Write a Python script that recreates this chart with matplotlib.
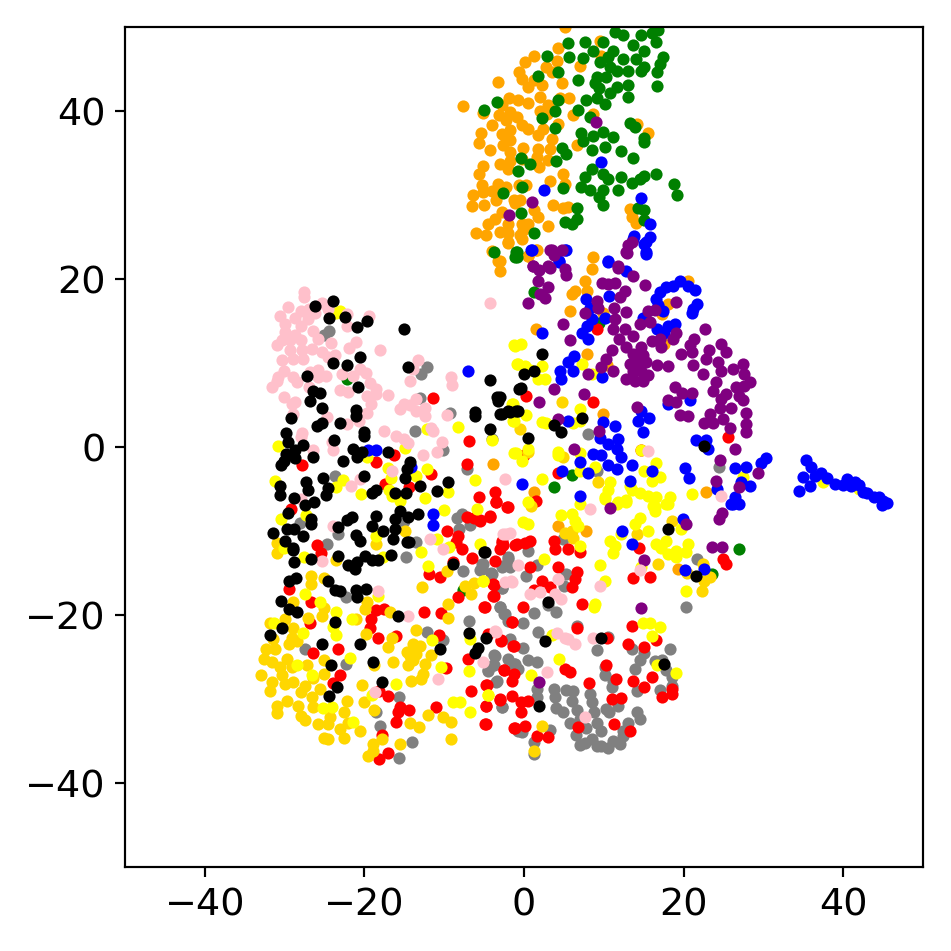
import numpy as np
import matplotlib
matplotlib.use("Agg")
import matplotlib.pyplot as plt

### points, (x, y) per colour
orange_pts = [(-7.6,40.6),(-3.3,43.5),(-5.1,39.8),(1.2,46.5),(0.1,45.8),(-0.6,44.6),(-0.3,43.8),(4.3,47.5),(4.1,46.0),(2.8,45.2),
    (3.5,44.6),(1.2,43.7),(0.5,42.9),(2.2,43.1),(4.7,43.3),(7.0,45.4),(9.7,46.5),(-1.9,41.6),(-0.8,41.3),(0.5,40.9),
    (2,41.7),(4.5,41.5),(5.7,41.5),(3,40.7),(2,40),(2.9,39.7),(6.2,39.5),(-2.8,40.7),(-3.1,39.5),(-1.8,39.9),
    (-2.2,38.9),(-0.9,39.3),(-0.3,38.3),(-4,38.3),(-5.4,37.4),(-5.6,36.2),(-2.8,37.3),(-1.8,37.7),(0.5,37.9),(1.8,37.1),
    (2.4,37.9),(4.3,38.4),(3.5,36.7),(-2.6,35.9),(-1.8,36.5),(-4.2,35.4),(-0.1,35.6),(1.7,35.5),(3.3,35.5),(6.7,36),
    (-1.8,35.1),(-1.8,34.1),(-0.3,34.3),(1.6,34.5),(3,34.2),(-3,33.7),(-2,33.1),(1.9,33.3),(-5.2,33.4),(-5.6,32.5),
    (-5.3,31.2),(4.9,32.5),(3.3,31.7),(5.1,31.3),(-3.2,31.3),(-2.2,31),(0.3,31.2),(-0.6,31.2),(-6.4,30),(-4,30.5),
    (-5.1,30.4),(-3.5,29.4),(-6.5,28.7),(-5,28.8),(-1.3,29.4),(-0.5,29.4),(-1.1,29),(3.6,28.8),(4.9,28.4),(5.5,28.6),
    (1.2,28.2),(13.3,28.3),(13.5,27.4),(14,26.7),(-2.8,28),(-3.6,27.1),(-4.5,26.5),(-6,25.5),(-4.8,25.2),(-3,25.6),
    (-2,26.6),(-2,24.4),(-0.3,26.6),(0.5,26.6),(1.8,27.4),(3,26.3),(-0.5,25.2),(-0.1,25.8),(-2,25.5),(-4,23.3),
    (0.5,22.7),(-3.2,22.1),(8.7,22.6),(15.5,37.4),(14.1,38.4),(8.7,39.7),(9.5,48.3),(5.1,50),(1.5,23.4),
    (8.5,21.2),(7.7,19.8),(7.9,18.6),(6.4,18.6),(6,18.2),(5.8,16.2),(9.9,16),(1.5,14),(7.9,11.1),(10.4,9.8),
    (17.5,12.3),(18,17),(17.3,15.8),(20.5,19.8),(0.5,22.7),(-2,24.3),(-3,22.2),(-3,21),(1.6,23.4),(9.9,3.9),
    (22.8,-5.4),(1.2,-5.3),(-0.3,24.8),(-3.9,-2),(4.2,-9.4),(7.8,-10),(19.3,-14.5)]

green_pts = [(2.9,46.6),(5.5,48.1),(7.6,48.2),(5.7,46.4),(7.4,46.3),(8.7,47.2),(9.9,48.2),(11.4,49.4),(12.4,49),(14.7,49.1),
    (16.8,49.6),(16,49.3),(13.7,47.8),(16.6,48.2),(15.1,47.2),(17.4,46.4),(17,45.6),(14,46.2),(11.2,47.2),(10.5,46.4),
    (12.4,46.2),(9.5,45.8),(10.8,45.2),(13,44.8),(15.1,45.2),(14.7,44.8),(16.7,44.6),(11.6,44.8),(10.3,44),(9.1,44),
    (6.8,43.7),(4.3,44.6),(1.7,44.2),(8.9,43.3),(9.4,42.7),(16.7,43),(13,43.1),(13,41.7),(11.6,42.9),(10.8,42.1),
    (10.1,40.8),(9.2,41.5),(7.8,41.3),(6.8,40.1),(4.3,41.3),(3.9,40),(2.3,39.2),(-3.4,41.1),(-5,40.1),(8.3,39.3),
    (3.9,38),(13.3,38.6),(13.9,38.1),(15,36.8),(15,36.3),(7.1,37.4),(7.4,36.4),(8.7,37),(9.9,37.5),(11.1,36.9),
    (10.1,35.7),(8.5,35.3),(4.7,35.6),(5.3,34.9),(4,34),(12.1,35.2),(13.7,34.4),(0.7,33.7),(-0.8,32.9),(-0.4,34.4),
    (8.5,33.1),(7.6,32.1),(7.2,30.9),(8.3,30.6),(9.9,32.5),(10.5,31.9),(12.1,32.1),(11.8,30.6),(9.9,30.6),(9.4,29.8),
    (9.9,28.8),(13.5,31.4),(14.5,31.9),(15,32.3),(16.6,32.5),(18.8,31.3),(19.2,30),(4.9,30.8),(-0.3,30.9),(-2.6,30.2),
    (6.7,28.4),(6.6,27.2),(5.1,26.8),(6,26.6),(-0.4,27.9),(1.2,25.5),(14.3,28.4),(15.1,27),(15.1,28.2),(-0.9,23.2),
    (-0.9,22.6),(-3.8,23.2),(-1,23.2),(-1.1,22.6),(1.2,18.5),(9.4,14.8),(6,-3.3),(3.8,-4.8),(26.9,-12.2),(23.6,-15.1),
    (-7.6,-17),(-22.2,8.1)]

gray_pts = [(-24.4,13.8),(-25.1,13.3),(-12.1,9.5),(-12.9,8.7),(-13,5.8),(-9.3,4),(-13.6,1.9),(-10.1,-.4),(-7.1,-2.6),(-23.7,-3.4),
    (-8.4,-8.5),(-7.8,-8),(-6.8,-9.3),(-15.1,-8.8),(-28.1,-9),(-23.3,-10.4),(-24.7,-11.5),(-8.1,-9.8),(-13.5,-11.3),(-4,.9),
    (-14.8,-13.1),(-7.6,-14.8),(-5.3,-13.9),(-5.3,-14.5),(-4.1,-15),(-2.6,-14.2),(-2,-13.3),(-2.8,-16.8),(-22.3,-17.9),(-3,-19),
    (-2.4,-19.9),(-6.9,-20.7),(-12.1,-22),(-10.1,-23),(-27.4,-24),(-22.3,-25.8),(-3.7,-24.8),(-2,-25.2),(-3.9,-26),(-4.5,-26.7),
    (-1.2,-25.8),(-3.5,-28),(-2.7,-31),(-15.7,-29.8),(-18.5,-31.5),(-18,-33.2),(-14,-35.1),(-15.7,-37),(-.8,-33.8),
    (.5,-12.4),(-2,-13.1),(-2.8,-14.3),(-1.8,-14.3),(-5.1,-13.9),(-4,-15.1),(-5.5,-14.7),(1.6,-14.1),(.3,-15.4),(4.9,-11),
    (-2.7,-16.8),(5.3,-15.1),(5,-16.5),(3,-18.8),(4,-19.6),(1.3,-19.8),(-3,-19),(-2.5,-19.9),(-2,-20.7),(-.1,-20.9),
    (1.8,-22),(-1.8,-22.8),(-.1,-23.9),(9.2,-24.2),(10.5,-22.6),(6.6,-21.3),(13.5,-24.1),(18.3,-24.1),(15,-24.5),(14.5,-25.4),
    (13.9,-26.4),(10.1,-26.2),(10.1,-27.2),(-3.6,-24.9),(-1.1,-25.8),(-3.8,-26),(-4.5,-26.6),(-.7,-26.4),(.5,-25.4),(1.6,-25.6),
    (-3.4,-27.9),(17.3,-25.4),(16.4,-25.5),(17.8,-26.6),(18.5,-27.4),(18.5,-28.4),(17,-28.9),(14.1,-29),(11.2,-27.8),(11,-28.6),
    (1.6,-28.8),(1.6,-29.8),(3.8,-28.8),(3.9,-29.8),(4,-31.1),(4.9,-31.5),(5.3,-28.9),(6.2,-29.1),(6,-30.2),(6.6,-31.3),
    (8.3,-29.4),(8.5,-30.4),(8.8,-31.5),(10.3,-31.2),(11.8,-30.8),(10.7,-31.6),(14.1,-31.5),(14.5,-32.4),(13,-32.9),(5.8,-32.8),
    (7,-32.4),(7.8,-33.4),(9.2,-32.8),(9.7,-33.8),(12.4,-33.8),(6.5,-34.3),(8.5,-34.8),(7,-35.5),(7.6,-35.2),(9.1,-35.6),
    (9.7,-35.6),(10.5,-35.8),(11.2,-35),(12,-35.4),(12.4,-34.4),(-.3,-33.9),(3.3,-33.7),(1.2,-35.1),(1.3,-36.6),(-2.8,-31),
    (21.7,-13.3),(20.3,-19),(8,1.5),(24.4,-2.4),(9.1,-2.8)]

red_pts = [(-11.4,5.8),(-6.9,.7),(-7.2,-2),(-27.8,-2.1),(-18.5,-1.8),(-16.3,-.9),(-11.7,-3.2),(-14.4,-4.8),(-17.4,-4.4),(-3.6,-5.3),
    (-3.5,-6.5),(-5.7,-6),(-2.1,-7.2),(-4.3,-8.3),(-5.5,-8.7),(-6.3,-8.5),(-7.1,-8.3),(-8.3,-10.6),(-8.5,-11.3),(-2.8,-11.2),
    (-2.6,-11.7),(-29.2,-7.4),(-26,-11.7),(-9.7,-10),(-1.1,-11.7),(-25.4,-12.6),(-7.8,-12.1),(-11.9,-15.1),(-10.5,-15.5),(-8.9,-13.7),
    (-6.5,-13.2),(-3.9,-16.3),(-3.9,-17.7),(-8.3,-17.9),(-5,-19),(-29.5,-16.9),(-26.7,-18.4),(-26.8,-21),(-12.5,-19.6),(-10.4,-19.8),
    (-19.2,-20.5),(-18.5,-19.4),(-17.6,-19.3),(-19.3,-21.5),(-18.3,-22.7),(-16,-22.5),(-10.7,-22.4),(-1.5,-20.8),(-4.5,-22.3),(-2.9,-23.1),
    (-1.4,-23.7),(-23.3,-24.1),(-26.4,-24.5),(-7,-25.2),(-9.8,-26.3),(-2.5,-26.6),(-4.6,-28.3),(-6.7,-29.1),(-3,-30.1),(-4.8,-30.8),
    (-4.8,-33),(-23.1,-27.2),(-23.9,-28.1),(-18.2,-29.1),(-17,-29.7),(-15.6,-31),(-14.4,-31.3),(-15.8,-31.5),(-11,-31),(-16.1,-32.7),
    (-17.8,-34.3),(-18.2,-37.1),(-17,-36.4),(-1.2,-33.5),(-2,-7.2),(-4.2,-8.2),(-5.5,-8.8),(-3.5,-6.6),(-.9,-11.6),(-2.8,-11.4),
    (-3,-12.2),(.1,-11.4),(.8,-11.2),(3.7,-11.2),(3.9,-12.2),(5.5,-12.2),(7,-12.5),(-3.6,-13.6),(.7,-14.3),(4.3,-14.3),
    (6.6,-14.9),(6.4,-15.7),(2.3,-15.9),(-3.8,-16.4),(3.3,-16.7),(1.3,-17),(6,-16.7),(-3.8,-17.7),(-.1,-19),(-4.9,-19),
    (7.3,-18.7),(13.7,-15.6),(15.8,-15.5),(14.4,-12),(25,-13.3),(25.3,-13.9),(-1.5,-20.8),(13.5,-21.3),(6.6,-21.5),(10.4,-22.7),
    (13,-23.5),(16.5,-23),(-2.9,-23),(-1.3,-23.7),(15,-23.8),(-2.5,-26.6),(-1.2,-27),(-1.5,-27.8),(5.1,-26.4),(5.8,-26.8),
    (-4.7,-28.3),(10.3,-25.9),(11.5,-27.6),(8.2,-28.1),(13.7,-27.9),(16,-27.4),(15,-28.6),(18.5,-28.8),(18.6,-29.4),(17.3,-29.8),
    (-3,-30),(-1.5,-29.6),(-4.7,-30.8),(.5,-30.2),(-.4,-30.3),(-.4,-31.5),(11,-30),(12.1,-29.9),(11.3,-33),(-4.9,-33),
    (-1.1,-33.5),(.1,-33.2),(1.6,-34.4),(3,-34.5),(6.8,-33.3),(13.3,-33.8),(9.2,14),(25.6,1.2),(14.6,-.4),(8.6,5.3),
    (.3,6.1),(0,-.9),(4.3,-3.1),(1.5,-6.4)]

gold_pts = [(-31,-11.4),(-31,-12.6),(-26.7,-15.3),(-26.7,-16.3),(-25,-15.6),(-28.9,-18.5),(-25,-19.2),(-25.3,-20.1),(-27.1,-20.3),(-29.9,-20.5),
    (-31.8,-21),(-28.9,-21.5),(-29.1,-22.7),(-29.5,-23.5),(-28.5,-23.1),(-31.4,-22.9),(-31.2,-24),(-32.3,-24.1),(-32.6,-25.2),(-31.6,-25.6),
    (-29.7,-25.2),(-30.6,-26.2),(-29.1,-26.2),(-27.2,-26),(-33,-27.1),(-30.3,-27.2),(-31.6,-28),(-29.9,-28.2),(-31.8,-29),(-28.9,-28),
    (-28,-29.2),(-27.4,-28.4),(-29.7,-30.2),(-31,-30.8),(-31,-31.7),(-28.3,-30.8),(-28,-32),(-27.4,-32.5),(-26.6,-29.8),(-26.4,-31),
    (-25.1,-25.4),(-25,-27),(-26.4,-27.5),(-25.6,-28.8),(-24.3,-32.2),(-25.8,-33),(-24.5,-33),(-22.6,-31.6),(-22.2,-30.2),(-20.1,-30.4),
    (-20.3,-28.3),(-18.8,-31.3),(-22,-32.9),(-23.1,-33.6),(-20.5,-33.8),(-22.6,-34.6),(-25.1,-34.7),(-24.6,-34.8),(-18.9,-35.4),(-17.8,-34.8),
    (-19.5,-36.8),(-18.9,-36.2),(-15.6,-35.4),(-14.3,-32.9),(-13.2,-33.3),(-12,-31.9),(-10.1,-32.2),(-9.1,-32.7),(-9.1,-34.8),(-14.2,-27.8),
    (-12.9,-27.6),(-12.6,-27),(-12.4,-25.8),(-14.5,-26),(-13.9,-25.4),(-14.7,-24.4),(-13.9,-23.5),(-13,-23.7),(-14.3,-24.9),(-13.5,-24.6),
    (-11.7,-24.8),(-13.5,-21.8),(-16.4,-25.6),(-18.8,-25.9),(-17,-23.8),(-16.6,-22.7),(-19.8,-22.3),(-19.9,-19.3),(-21,-20.5),(-19.7,-18.5),
    (-16.8,-19.6),(-9.5,-18.7),(-9.5,-20.3),(-12.8,-16.7),(-9.7,-14.8),(-6.3,-16.2),(-6.6,-17.5),(-7.4,-16.5),(-14.9,-10),(-23.5,-13.5),
    (-18.5,-11.5),(6,-10),(6.2,-10.8),(5.1,-10.2),(14.1,-10.3),(18.5,-8.8),(16.8,-13.9),(22.4,-13.9),(20.4,-15),(23.3,-15.5),
    (22.6,-15.9),(22.3,-17.1),(.9,-7),(2.2,-33.2),(1.2,-36.2),(4.8,5.3),(9.3,-4.2),(-.5,2.1),(4.9,-1.2),(.5,-.6)]

yellow_pts = [(-1.1,12),(-.4,12.3),(-.7,9.9),(.1,9.7),(.8,9.2),(2.3,9.7),(1.8,8.1),(2.6,8.1),(7.3,9.9),(8.5,8.7),
    (-1.4,5.1),(.3,3.8),(-1.3,3.1),(2.2,3),(2.8,2.9),(6.2,2.9),(7,3.1),(7,4.5),(-1,-.7),(.5,-.2),
    (-.3,-1.7),(4.2,-.6),(4.2,-1),(7,-.7),(7,-2.9),(8.9,-2.4),(2.2,-3.8),(14.7,-.4),(16.5,-1.9),(15.1,-2.8),
    (17,-3.6),(16,-4.1),(10.8,-4.2),(10.5,-5.1),(10.1,-6),(13.3,-4.6),(13.5,-5.1),(14.5,-5.5),(15.5,-5.8),(16.6,-6),
    (18.3,-6),(17.8,-6.8),(12.8,-6.3),(11.8,-6.6),(21,-5.6),(27.5,-3.6),(.5,-6.6),(7,-6.8),(16.4,-7.2),
    (-23,16.2),(-23.6,16),(-1.3,12.1),(-.9,9.9),(-1.5,5.1),(-1.4,3.1),(-8.3,2.4),(-4,.8),(-1.2,-.7),(-12.1,2.1),
    (-30.8,.1),(-31.2,-4.1),(-19.7,-1.2),(-14.9,-.1),(-17.1,-2.5),(-16.7,-3.7),(-13.5,-3.4),(-12.2,-2.6),(-6.1,-3.9),(-22.7,-3.9),
    (-23.5,-4.8),(-20.4,-5.6),(-16.9,-5.1),(-16.6,-5.8),(-15.5,-6.4),(-9.5,-5.3),(-12.4,-6.1),(-10,-7.5),(-5.9,-7.4),(-30.4,-8.6),
    (-27.3,-8.1),(-18.5,-10.6),(-10.9,-11),(-9.4,-11.9),(-5.5,-11.6),(-30.1,-12),(-27.6,-13.1),(-17.7,-13.1),(-12.9,-12.5),(-12,-14.2),
    (-5.2,-15.9),(-27.4,-17.5),(-25.6,-18.4),(-18.3,-17.7),(-23.6,-19.6),(-21.6,-20.5),(-23.9,-21.4),(-23.6,-22.4),(-27.7,-22.1),(-31.3,-20.9),
    (-6.8,-22.9),(-11.5,-23),(-6.9,-26.7),(-16,-28.2),(-21.8,-25.1),(-28.5,-26),(-26.6,-27.2),(-4.5,-29.5),(-8.9,-30.3),(-8,-30.3),
    (-6.8,-31.5),(-25.2,-31.1),(-24,-31),(-19.1,-29.5),(-10.4,-26.2),(-21.4,-32.7),(4.6,-8.1),(6,-8),(6.4,-8.8),(6.8,-9.4),
    (-.1,-8.9),(.5,-9.2),(10.1,-6.2),(11.6,-6.8),(12.8,-6.6),(16.4,-7.6),(16.2,-7),(18,-6.8),(14.5,-8.4),(13.9,-9.2),
    (15.6,-10),(12.2,-10.3),(10.8,-11.2),(11.4,-11.8),(11.2,-12.6),(16.6,-11.6),(17.8,-11.2),(17.2,-12),(18,-12.7),(19.1,-12.4),
    (19,-13.1),(20.5,-11.6),(20.3,-12.5),(19.7,-9.8),(9.5,-14.1),(10.1,-15.9),(14.6,-14.3),(2.5,-13.3),(20.3,-17.2),(8.9,-18.7),
    (8.8,-19),(14.9,-21),(15.8,-21),(17.1,-21.4),(16,-22.5),(3.5,-22.4),(4.4,-25.2),(16.7,-26),(19,-26.9),(.9,-27.2),
    (-4.5,-29.5),(7,-11.8),(-5.1,-15.9),(37.5,-4.2),(42,-5)]

blue_pts = [(1,23.5),(5.3,23.4),(4.4,22),(10.5,22),(12.8,21),(15.3,24.4),(15.3,23.2),(13.7,24.8),(19.5,19.8),(18.7,19.2),
    (17.8,19),(17,18.5),(16.5,17.6),(16.8,16.9),(20.5,19.2),(21.4,18.7),(21.7,17),(21.2,16.4),(21,16),(17.4,16.2),
    (10.7,18),(7.8,17.6),(8.3,16.6),(8.5,15.2),(7.9,14.4),(7.3,13.6),(8,12.8),(10.1,15.4),(14.9,15.3),(16.7,14),
    (17.6,13.6),(18.9,14.6),(18,14.4),(2.3,13.6),(6.3,10.8),(5.5,10.1),(4.5,9.1),(4.6,8.1),(6.2,9),(9.8,8.3),
    (20.8,5.6),(18,5.1),(14.6,4.3),(14.3,3.1),(15.7,3.5),(14.9,1.8),(5.5,3.1),(9.9,3),(11.4,2.5),(9.5,1.1),
    (11.8,1),(10.5,.35),(11.6,-.2),(12.2,-1.2),(9.7,-1),(8.7,-.8),(7,-1.8),(8,-3.1),(10.5,-2.2),(11.6,-2.6),
    (13.5,-2.2),(4.7,-2.8),(-.2,-4.4),(7,-5.8),(16.1,-2.8),(13.3,-4.1),(21.6,.8),(22.8,.8),(23,-.2),(20.2,-2.5),
    (20.7,-3.7),(26.5,-2.5),(27.8,-2.4),(27.2,-4.2),(29.7,-1.9),(30.3,-1.3),(24.2,-5),(28.3,-4.6),(26.4,-6),(26,-6.8),
    (27,-6.8),(34.5,-5.2),(35,-3.6),(35.4,-1.6),(36,-2.4),(36.5,-3.5),(37.2,-3.1),(35.8,-4.6),(38,-3.7),(39,-4.4),
    (40,-4.5),(40.5,-3.8),(41,-4.7),(41.5,-4.2),(42,-4.5),(42.5,-5.4),(43,-5.5),(43.8,-5.9),(44.5,-6),(45,-6.4),
    (45.5,-6.7),(44.8,-6.9),(-7,9),(-18.5,-.4),(-19.6,-.4),(-14.1,-2.4),(-11.4,-8),(-11.4,-9.3),(9.6,33.9),(2.5,30.6),
    (14.6,29.6),(15.8,26.5),(13.8,25.1),(15.8,25),(15,24.2),(15.3,23),(.9,23.4),(5.1,23.4),(4.4,22.1),(10.5,22.1),
    (13.5,-11.5),(19.9,-8.6),(22.5,-14.5),(20.2,-14.7),(26.2,-6.8),(12.3,-10)]

purple_pts = [(3.5,23.4),(4.7,23.5),(3.7,22.8),(5.1,21.2),(5.3,20.5),(1.1,21.6),(1.9,21.1),(3.2,21.3),(1.7,19.8),(3,19.1),
    (2,18.2),(2.6,17.7),(.5,17.2),(13,24),(12.9,23.1),(11.8,21.3),(13.7,20.3),(15.2,19.3),(9.8,19.5),(10.5,19.4),
    (11.4,19.5),(12.6,18.6),(12,17.8),(9.1,17.4),(9.3,16.6),(11.3,16.6),(12.8,16.1),(11.4,15.2),(7.6,16),(4.9,14.6),
    (5.8,12.7),(11,11.5),(10.3,10.5),(9.7,9.5),(11.2,9.1),(8,8.7),(11.2,14),(12.6,14),(11.9,12.9),(13.6,13.2),
    (14.5,14.6),(15.8,14.9),(15.5,16.2),(16.4,16.3),(19.1,17.3),(19.1,13.6),(18.7,12.9),(22.7,14.1),(16,12.6),(17,12.9),
    (17.2,11.9),(12.8,11.9),(14.7,11.9),(13.7,11.1),(14.9,10.9),(13.3,9.9),(14.3,10.1),(15.3,10.1),(13.7,9.1),(14.7,9.1),
    (12.8,8.1),(13.9,7.9),(14.9,7.9),(15.5,8.6),(16.7,9.8),(18.1,9.7),(21.3,12.9),(20.8,12.1),(19.7,11.1),(21.1,11.3),
    (23.2,11.5),(22.8,10.5),(21.2,9.8),(22.4,8.7),(24.7,12.3),(25.3,11.3),(24.3,10.1),(24.7,9.1),(26.2,9.3),(27.4,9.9),
    (27.6,8.7),(28.3,7.7),(27.6,7.3),(24.1,7.7),(23.7,6.7),(26.6,7.1),(25.3,6.3),(24.7,5.7),(27,6.1),(27.5,5.6),
    (24.5,4.7),(26,4.7),(27.8,4.1),(23.3,3.9),(24.9,3.3),(22.5,2.9),(23.7,2.9),(25.8,2.3),(27.8,2.7),(27.8,1.8),
    (18.9,7.2),(19.8,6.4),(21,6.4),(18,5.6),(19.1,5.3),(19.6,3.8),(20.5,3.7),(14.2,4.8),(3.8,6.9),(7.5,6.3),
    (1.9,5.4),(4.3,3.3),(9.4,1.9),(6.3,-.2),(26.5,-.2),(24.6,-1.5),(24.1,-4.1),(29.3,-3.1),(27,-4.8),(10.8,-7.3),
    (9,38.7),(1,29.2),(-1.9,27.6),(13.5,24.4),(12.8,23.2),(3.3,23.4),(1.1,21.6),(3,21.5),(11.8,21.5),(20.3,-9.2),
    (24.4,-8.6),(24.8,-7.8),(23.6,-11.9),(24.8,-11.9),(15,-13.5),(14.6,-19.2),(1.9,-28)]

pink_pts = [(-27.6,18.4),(-27.6,17.9),(-29.6,16.7),(-30.6,15.6),(-28,16.2),(-27,16.4),(-26.2,16),(-25.3,17.1),(-24.6,16.4),(-27.1,15.2),
    (-28.7,15.4),(-29.9,14.6),(-28,14.4),(-22.2,15.8),(-22.2,14.4),(-19.4,15.6),(-26.4,13.8),(-29.9,13.7),(-28.7,13.3),(-29.3,12.7),
    (-30.3,12.7),(-31,12.1),(-28,12.7),(-25.8,12.9),(-24.2,12.4),(-26.6,11.7),(-29.3,11.5),(-27.8,11.5),(-25.3,11.3),(-24.5,10.7),
    (-23.7,11),(-21,12.5),(-21.9,11.8),(-18,11.5),(-28.9,10.5),(-27.7,10.5),(-30.3,10.3),(-30.1,9.1),(-30.8,8.3),(-31,7.9),
    (-31.6,7.1),(-28.9,8.3),(-28.4,7.7),(-26.8,8.9),(-25.8,9.2),(-25.8,8.3),(-24.8,8.4),(-22.8,8.7),(-21.4,8.4),(-20.5,9.3),
    (-19.8,8.8),(-19.3,7.6),(-18.5,6.9),(-18.5,6.3),(-17,6.2),(-23,6.8),(-22,6.5),(-26.9,7.1),(-30.1,6),(-28.7,5.3),
    (-29.1,5.1),(-19.7,6.1),(-19.2,5.1),(-19.7,4),(-24.7,3.6),(-20.7,3.1),(-22.2,2.7),(-28.9,3.9),(-27.8,1.7),(-28,1.2),
    (-24,.6),(-26.4,-.3),(-23.9,-.4),(-17.5,1.9),(-16,1.3),(-15.1,1),(-14.5,.5),(-12.6,-1),(-10.9,-.6),(-10.3,.6),
    (-11.6,2.3),(-11.4,1.9),(-9.7,3.8),(-12.4,4.6),(-12.4,3.7),(-13.5,4.3),(-13.5,5.7),(-14.3,5),(-15.5,4.5),(-15.1,5.1),
    (-14.3,7.8),(-13.9,9.3),(-13.3,10.4),(-9.2,8.3),(-9,7.4),(-4.2,17.2),(-20.5,-3.8),(-21.7,-4.7),(-16.6,-2.9),(-2.4,-3.8),
    (-27.9,-6.2),(-23.9,-9.4),(-11.8,-11),(-2.2,-10.4),(-25.3,-13.6),(-18.3,-17.1),(-14.5,-20.1),(-10.8,-27.6),(-18.7,-29.2),(-3.6,-21.9),
    (-5.1,-25.6),(-1.6,-16),(-2.4,-16.1),(-10.1,-12.1),(-1.8,-10.2),(-2.6,-10.4),(8.3,-7.4),(-.7,-14.1),(-1.5,-16.1),(4.3,-15.7),
    (2,-17.3),(.8,-17.5),(3.9,-17.5),(4.6,-18.1),(9.5,-16.6),(14.5,-14.7),(-3.5,-22),(4.1,-22.1),(5.1,-22.7),(6.4,-23.5),
    (5.5,-22.9),(8.6,-22.7),(2.9,-26.8),(7.7,-32.1),(15.5,-.5),(24.7,-5.8)]

black_pts = [(-23.9,17.4),(-26.2,16.8),(-24.4,15.4),(-22.4,15.5),(-20.9,14.3),(-19.7,15),(-15.1,14),(-20.6,10.7),(-22.2,9.8),(-23.9,10),
    (-27.2,8.5),(-20.8,7.2),(-26.4,6.7),(-25.6,6.4),(-26.8,5.5),(-25.3,4.7),(-29.2,3.4),(-21,4.4),(-21,3.7),(-26,2.5),
    (-25.3,2.8),(-23.1,2.9),(-20,1.8),(-20,1.3),(-29.8,1.7),(-29.6,.6),(-27.7,.2),(-28.7,-.4),(-29.8,-.8),(-28.7,-1.3),
    (-30.1,-1.7),(-30.4,-2.2),(-26.5,-1.2),(-23.8,.8),(-21.4,-.2),(-20.3,-.6),(-20.9,-1.2),(-22.7,-1.7),(-17.1,-.6),(-14.5,9.5),
    (-4.3,8),(-3.4,6),(-3.2,5.5),(-6.1,4.2),(-6.2,3.7),(-4.2,2.2),(-3,3.9),(-2,4.3),(-1,4.3),(-.6,6.9),
    (-14.3,-1.8),(-14.7,-2.6),(-14.9,-3.7),(-20.1,-3.5),(-25.2,-3.7),(-27.3,-4.2),(-27.1,-5.1),(-30.6,-4.6),(-30.6,-5.7),(-24.8,-5.7),
    (-24.5,-4.9),(-18.5,-5.1),(-19,-5.5),(-16.2,-5.5),(-14.8,-5.5),(-13,-4.7),(-10.9,-5.2),(-9.5,-4.2),(-28.8,-6.1),(-26.3,-6.6),
    (-27.5,-6.9),(-26.7,-8.6),(-26.7,-9.2),(-29.6,-7.9),(-21.5,-8.3),(-22.2,-8.7),(-18.5,-8.2),(-15.6,-7.6),(-16.2,-8.6),(-13.3,-8),
    (-14.5,-8.3),(-19,-9.4),(-17.7,-10),(-16.2,-9.8),(-16.4,-11),(-23.3,-9.5),(-21,-10.5),(-20.5,-11.2),(-29.7,-9.8),(-28.8,-9.8),
    (-31.5,-10.2),(-30,-11.2),(-27.7,-10.6),(-14.4,-11.3),(-28.9,-12),(-28.9,-12.3),(-28.8,-13.7),(-26.7,-13.3),(-23.3,-13),(-22.1,-14),
    (-21.2,-14.5),(-20.9,-13.7),(-19.9,-13),(-19.1,-13.5),(-18.3,-13.4),(-16.7,-12.8),(-14.7,-11.3),(-8.9,-13.9),(-5,-12.5),(-29.5,-16),
    (-28.6,-15.6),(-24.6,-16),(-23.7,-17),(-23,-17.2),(-21,-17),(-20.9,-17.9),(-19.8,-16.9),(-30.5,-18.3),(-29.5,-19.3),(-28.5,-19.7),
    (-15.8,-20.1),(-23.7,-20.8),(-30.3,-21.5),(-31.8,-22.4),(-25.3,-23.5),(-20.5,-23.5),(-24.2,-26),(-23.4,-28.6),(-24.4,-29.6),(-17.8,-28),
    (-18.9,-25.6),(-10.5,-24.1),(-6.9,-22.1),(-4.8,-22.7),(-5.8,-23.9),(-6.2,-24.5),(-4.9,-12.5),(18,-9.8),(21.5,-15.3),(3,-18.5),
    (2.6,-23.1),(9.6,-22.7),(1.9,-30.8),(17.6,-25.8),(2.3,11.1),(1.3,9),(0,8.7),(-.4,7),(-3,5.9),(-.7,4.3),
    (-1.8,4.2),(-2.8,3.9),(3.7,2.6),(4.6,1.8),(7.3,3.5),(.5,1.1),(22.5,.1)]

### drawn in this order, later colours on top
groups = [
    (orange_pts, "orange"),
    (green_pts, "green"),
    (gray_pts, "gray"),
    (red_pts, "red"),
    (gold_pts, "gold"),
    (yellow_pts, "yellow"),
    (blue_pts, "blue"),
    (purple_pts, "purple"),
    (pink_pts, "pink"),
    (black_pts, "black"),
]

fig = plt.figure(figsize=(952 / 196, 952 / 196), dpi=196)
ax = fig.add_axes([125 / 952, 1 - 868 / 952, 798 / 952, 840 / 952])

for pts, color in groups:
    pts = np.array(pts)
    ax.scatter(pts[:, 0], pts[:, 1], c=color, s=20, linewidths=0)

ax.set_xlim(-50, 50)
ax.set_ylim(-50, 50)
ax.set_xticks([-40, -20, 0, 20, 40])
ax.set_yticks([-40, -20, 0, 20, 40])
ax.tick_params(labelsize=14)

fig.savefig("out.png", dpi=196)
